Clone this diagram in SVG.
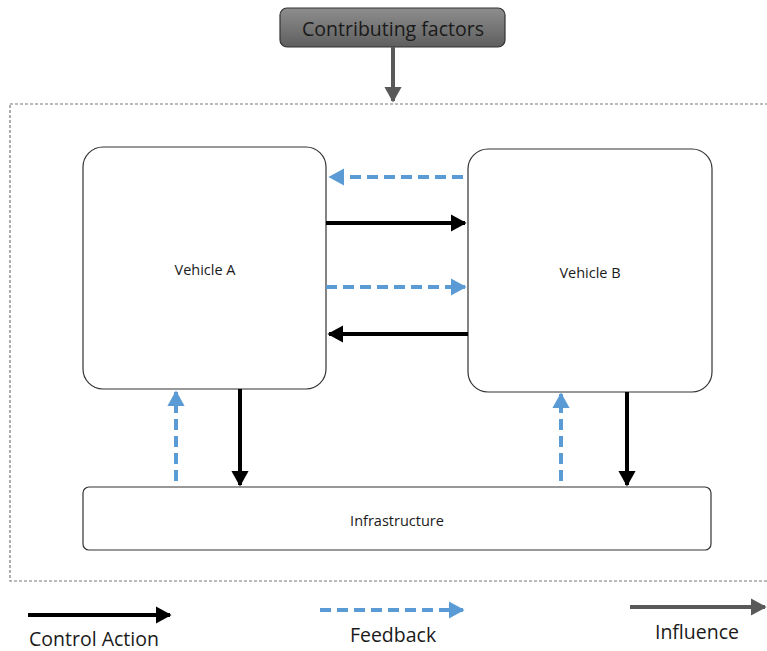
<svg xmlns="http://www.w3.org/2000/svg" width="767" height="651" viewBox="0 0 767 651">
  <defs>
    <linearGradient id="gradFactor" x1="0" y1="0" x2="0" y2="1">
      <stop offset="0" stop-color="#8e8e8e"/>
      <stop offset="1" stop-color="#5e5e5e"/>
    </linearGradient>
    <marker id="headBlack" markerWidth="4" markerHeight="4.4" refX="3.6" refY="2.2" orient="auto" markerUnits="strokeWidth" viewBox="0 0 4 4.4">
      <path d="M0,0 L4,2.2 L0,4.4 Z" fill="#000"/>
    </marker>
    <marker id="headBlue" markerWidth="4" markerHeight="4.4" refX="3.6" refY="2.2" orient="auto" markerUnits="strokeWidth" viewBox="0 0 4 4.4">
      <path d="M0,0 L4,2.2 L0,4.4 Z" fill="#5b9bd5"/>
    </marker>
    <marker id="headGray" markerWidth="4" markerHeight="4.4" refX="3.6" refY="2.2" orient="auto" markerUnits="strokeWidth" viewBox="0 0 4 4.4">
      <path d="M0,0 L4,2.2 L0,4.4 Z" fill="#595959"/>
    </marker>
  </defs>
  <style>
    .node { fill: #fff; stroke: #333; stroke-width: 1.2; }
    .label { font-family: "Open Sans", "Liberation Sans", sans-serif; fill: #1a1a1a; text-anchor: middle; }
    .small { font-size: 14.5px; }
    .big { font-size: 19.5px; }
    .ctrl { stroke: #000; stroke-width: 4; fill: none; marker-end: url(#headBlack); }
    .fb { stroke: #5b9bd5; stroke-width: 4; fill: none; stroke-dasharray: 11 6; marker-end: url(#headBlue); }
    .infl { stroke: #595959; stroke-width: 4; fill: none; marker-end: url(#headGray); }
  </style>

  <!-- system boundary -->
  <rect x="10" y="104" width="770" height="477" fill="none" stroke="#777" stroke-width="1.2" stroke-dasharray="3 2"/>

  <g id="factors">
    <rect x="280" y="8" width="225" height="39" rx="7" fill="url(#gradFactor)" stroke="#333" stroke-width="1.2"/>
    <text class="label" x="393" y="36" font-size="19.5">Contributing factors</text>
  </g>

  <g id="vehicleA">
    <rect class="node" x="83" y="147" width="243" height="242" rx="20"/>
    <text class="label small" x="205" y="275">Vehicle A</text>
  </g>

  <g id="vehicleB">
    <rect class="node" x="468" y="149" width="244" height="243" rx="20"/>
    <text class="label small" x="590" y="278">Vehicle B</text>
  </g>

  <g id="infrastructure">
    <rect class="node" x="83" y="487" width="628" height="63" rx="6"/>
    <text class="label small" x="397" y="526">Infrastructure</text>
  </g>

  <g id="connectors">
    <line class="infl" x1="393" y1="47" x2="393" y2="101"/>
    <line class="fb" x1="463" y1="177" x2="330" y2="177"/>
    <line class="ctrl" x1="326" y1="223" x2="465" y2="223"/>
    <line class="fb" x1="326" y1="287" x2="465" y2="287"/>
    <line class="ctrl" x1="468" y1="334" x2="329" y2="334"/>
    <line class="fb" x1="176" y1="481" x2="176" y2="392"/>
    <line class="ctrl" x1="240" y1="389" x2="240" y2="485"/>
    <line class="fb" x1="561" y1="481" x2="561" y2="394"/>
    <line class="ctrl" x1="627" y1="392" x2="627" y2="485"/>
  </g>

  <g id="legend">
    <line class="ctrl" x1="28" y1="615" x2="170" y2="615"/>
    <text class="label big" x="94" y="646">Control Action</text>
    <line class="fb" x1="320" y1="610" x2="463" y2="610"/>
    <text class="label big" x="393" y="642">Feedback</text>
    <line class="infl" x1="630" y1="607" x2="765" y2="607"/>
    <text class="label big" x="697" y="639">Influence</text>
  </g>
</svg>
